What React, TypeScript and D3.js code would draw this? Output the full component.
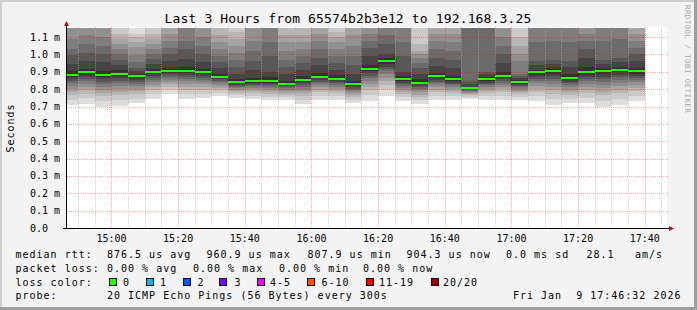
import React from "react";
import * as d3 from "d3";

// ---------------- data ----------------
const TITLE = "Last 3 Hours from 65574b2b3e12 to 192.168.3.25";
const Y_TICKS = [0, 0.1, 0.2, 0.3, 0.4, 0.5, 0.6, 0.7, 0.8, 0.9, 1.0, 1.1];
const Y_TICK_LABELS = ["0.0", "0.1 m", "0.2 m", "0.3 m", "0.4 m", "0.5 m", "0.6 m", "0.7 m", "0.8 m", "0.9 m", "1.0 m", "1.1 m"];
const Y_MAX = 1.1527; // ms
const X_TICK_LABELS = ["15:00", "15:20", "15:40", "16:00", "16:20", "16:40", "17:00", "17:20", "17:40"];
const T_START = new Date(2026, 0, 9, 14, 46, 40);
const T_END = new Date(2026, 0, 9, 17, 46, 40);
const FIRST_BIN = new Date(2026, 0, 9, 14, 45, 0);
const STEP_SECONDS = 300;

// median rtt per 5-minute bin (ms)
const MEDIAN = [
  0.884, 0.897, 0.884, 0.890, 0.878, 0.897, 0.907, 0.907, 0.897, 0.873,
  0.840, 0.846, 0.846, 0.832, 0.855, 0.873, 0.861, 0.828, 0.919, 0.961,
  0.857, 0.838, 0.874, 0.857, 0.808, 0.857, 0.878, 0.840, 0.897, 0.903,
  0.866, 0.897, 0.903, 0.913, 0.904,
];

// 20 sorted ping rtts per bin (ms)
const PINGS = [
  [0.711, 0.740, 0.766, 0.785, 0.803, 0.818, 0.834, 0.846, 0.858, 0.870, 0.905, 0.947, 0.995, 1.03, 1.09, 1.17, 1.21, 1.26, 1.33, 1.45],
  [0.717, 0.748, 0.775, 0.794, 0.812, 0.829, 0.845, 0.857, 0.870, 0.883, 0.915, 0.96, 1.01, 1.06, 1.11, 1.18, 1.22, 1.28, 1.35, 1.48],
  [0.698, 0.730, 0.758, 0.778, 0.797, 0.813, 0.830, 0.843, 0.856, 0.869, 0.905, 0.955, 1.0, 1.05, 1.10, 1.17, 1.21, 1.27, 1.34, 1.46],
  [0.705, 0.736, 0.764, 0.785, 0.803, 0.820, 0.836, 0.849, 0.862, 0.875, 0.910, 0.94, 0.97, 1.0, 1.03, 1.06, 1.09, 1.12, 1.18, 1.30],
  [0.719, 0.746, 0.770, 0.787, 0.803, 0.818, 0.832, 0.843, 0.854, 0.865, 0.89, 0.905, 0.92, 0.957, 0.995, 1.044, 1.073, 1.10, 1.121, 1.22],
  [0.746, 0.772, 0.794, 0.811, 0.826, 0.840, 0.853, 0.864, 0.874, 0.885, 0.915, 0.945, 0.975, 1.0, 1.03, 1.06, 1.09, 1.12, 1.19, 1.28],
  [0.770, 0.793, 0.814, 0.829, 0.843, 0.855, 0.867, 0.877, 0.886, 0.896, 0.925, 0.96, 1.0, 1.04, 1.08, 1.12, 1.17, 1.22, 1.30, 1.42],
  [0.746, 0.773, 0.798, 0.815, 0.831, 0.846, 0.860, 0.872, 0.883, 0.894, 0.93, 0.975, 1.03, 1.08, 1.16, 1.19, 1.24, 1.30, 1.38, 1.52],
  [0.750, 0.775, 0.797, 0.813, 0.828, 0.841, 0.854, 0.865, 0.875, 0.885, 0.915, 0.955, 1.0, 1.05, 1.10, 1.17, 1.21, 1.26, 1.34, 1.45],
  [0.759, 0.778, 0.795, 0.808, 0.819, 0.830, 0.840, 0.848, 0.856, 0.864, 0.89, 0.92, 0.955, 0.99, 1.03, 1.07, 1.11, 1.18, 1.25, 1.36],
  [0.748, 0.764, 0.777, 0.788, 0.797, 0.805, 0.813, 0.820, 0.826, 0.833, 0.86, 0.89, 0.93, 0.97, 1.01, 1.05, 1.09, 1.13, 1.20, 1.31],
  [0.746, 0.763, 0.778, 0.789, 0.799, 0.808, 0.817, 0.824, 0.831, 0.838, 0.865, 0.91, 0.96, 1.02, 1.08, 1.17, 1.21, 1.27, 1.34, 1.47],
  [0.738, 0.756, 0.773, 0.784, 0.795, 0.805, 0.815, 0.822, 0.830, 0.837, 0.87, 0.90, 0.99, 1.07, 1.16, 1.20, 1.25, 1.31, 1.40, 1.55],
  [0.740, 0.756, 0.769, 0.780, 0.789, 0.797, 0.805, 0.812, 0.818, 0.825, 0.85, 0.89, 0.93, 0.97, 1.02, 1.07, 1.11, 1.18, 1.25, 1.36],
  [0.717, 0.740, 0.761, 0.776, 0.790, 0.803, 0.815, 0.825, 0.834, 0.844, 0.875, 0.91, 0.95, 0.99, 1.03, 1.07, 1.11, 1.18, 1.26, 1.37],
  [0.740, 0.763, 0.783, 0.797, 0.810, 0.822, 0.834, 0.844, 0.853, 0.862, 0.895, 0.94, 0.98, 1.03, 1.08, 1.12, 1.17, 1.22, 1.30, 1.42],
  [0.740, 0.761, 0.779, 0.792, 0.804, 0.815, 0.826, 0.834, 0.843, 0.851, 0.88, 0.91, 0.95, 0.99, 1.03, 1.07, 1.10, 1.13, 1.19, 1.29],
  [0.721, 0.739, 0.755, 0.767, 0.778, 0.787, 0.797, 0.804, 0.812, 0.819, 0.85, 0.89, 0.94, 0.99, 1.05, 1.11, 1.17, 1.22, 1.30, 1.42],
  [0.734, 0.765, 0.793, 0.814, 0.832, 0.849, 0.865, 0.878, 0.891, 0.904, 0.94, 0.99, 1.04, 1.08, 1.12, 1.17, 1.21, 1.27, 1.35, 1.48],
  [0.763, 0.796, 0.826, 0.847, 0.867, 0.885, 0.902, 0.916, 0.930, 0.943, 0.98, 1.0, 1.06, 1.11, 1.16, 1.20, 1.25, 1.31, 1.40, 1.56],
  [0.734, 0.755, 0.773, 0.786, 0.798, 0.809, 0.820, 0.828, 0.837, 0.845, 0.875, 0.90, 0.99, 1.07, 1.16, 1.20, 1.25, 1.32, 1.41, 1.55],
  [0.715, 0.736, 0.755, 0.769, 0.781, 0.793, 0.804, 0.813, 0.821, 0.830, 0.86, 0.89, 0.92, 0.95, 0.98, 1.0, 1.02, 1.06, 1.18, 1.28],
  [0.740, 0.763, 0.783, 0.797, 0.810, 0.822, 0.834, 0.844, 0.853, 0.862, 0.895, 0.935, 0.98, 1.03, 1.08, 1.12, 1.17, 1.22, 1.30, 1.42],
  [0.740, 0.760, 0.777, 0.789, 0.801, 0.811, 0.822, 0.830, 0.838, 0.846, 0.875, 0.92, 0.97, 1.02, 1.07, 1.12, 1.17, 1.22, 1.30, 1.42],
  [0.745, 0.756, 0.765, 0.772, 0.778, 0.784, 0.790, 0.794, 0.799, 0.803, 0.815, 0.83, 0.845, 1.16, 1.20, 1.24, 1.30, 1.36, 1.45, 1.60],
  [0.740, 0.760, 0.777, 0.789, 0.801, 0.811, 0.822, 0.830, 0.838, 0.846, 0.87, 0.885, 0.90, 1.16, 1.20, 1.25, 1.30, 1.37, 1.46, 1.60],
  [0.740, 0.763, 0.784, 0.799, 0.813, 0.826, 0.838, 0.848, 0.857, 0.867, 0.90, 0.95, 1.0, 1.05, 1.10, 1.17, 1.21, 1.27, 1.34, 1.46],
  [0.740, 0.757, 0.771, 0.782, 0.792, 0.801, 0.810, 0.816, 0.823, 0.830, 0.855, 0.865, 0.875, 0.89, 0.965, 1.0, 1.05, 1.10, 1.19, 1.29],
  [0.734, 0.762, 0.786, 0.804, 0.820, 0.835, 0.850, 0.861, 0.873, 0.884, 0.913, 0.938, 0.96, 1.07, 1.16, 1.20, 1.25, 1.31, 1.40, 1.55],
  [0.711, 0.744, 0.772, 0.794, 0.813, 0.830, 0.847, 0.861, 0.874, 0.888, 0.92, 0.945, 0.97, 1.08, 1.16, 1.20, 1.25, 1.31, 1.40, 1.55],
  [0.721, 0.746, 0.767, 0.783, 0.798, 0.811, 0.824, 0.834, 0.844, 0.854, 0.89, 0.93, 0.96, 1.07, 1.16, 1.20, 1.25, 1.31, 1.40, 1.55],
  [0.721, 0.751, 0.777, 0.797, 0.814, 0.830, 0.846, 0.858, 0.871, 0.883, 0.93, 0.98, 1.03, 1.08, 1.12, 1.17, 1.21, 1.27, 1.35, 1.48],
  [0.698, 0.733, 0.764, 0.786, 0.807, 0.825, 0.844, 0.858, 0.872, 0.887, 0.92, 0.945, 0.97, 1.08, 1.16, 1.20, 1.25, 1.31, 1.40, 1.55],
  [0.711, 0.745, 0.776, 0.798, 0.818, 0.836, 0.854, 0.869, 0.883, 0.897, 0.93, 0.955, 0.98, 1.09, 1.16, 1.20, 1.25, 1.31, 1.40, 1.55],
  [0.734, 0.763, 0.788, 0.807, 0.824, 0.839, 0.854, 0.866, 0.878, 0.889, 0.925, 0.96, 1.0, 1.04, 1.08, 1.12, 1.17, 1.22, 1.30, 1.42],
];

const LEGEND_RTT_LABEL = "median rtt:";
const LEGEND_RTT = ["876.5 us avg", "960.9 us max", "807.9 us min", "904.3 us now", "0.0 ms sd", "28.1", "am/s"];
const LEGEND_LOSS_LABEL = "packet loss:";
const LEGEND_LOSS = ["0.00 % avg", "0.00 % max", "0.00 % min", "0.00 % now"];
const LOSS_COLOR_LABEL = "loss color:";
const LOSS_LABELS = ["0", "1", "2", "3", "4-5", "6-10", "11-19", "20/20"];
const LOSS_COLORS = ["#26ff00", "#00b8ff", "#0059ff", "#7e00ff", "#ff00ff", "#ff5500", "#ff0000", "#a00000"];
const PROBE_LABEL = "probe:";
const PROBE_TEXT = "20 ICMP Echo Pings (56 Bytes) every 300s";
const DATE_TEXT = "Fri Jan  9 17:46:32 2026";
const WATERMARK = "RRDTOOL / TOBI OETIKER";
const Y_LABEL = "Seconds";

// ---------------- layout ----------------
const W = 697;
const H = 310;
const PL = 67;
const PR = 667;
const PT = 28;
const PB = 228;
const MONO = "'DejaVu Sans Mono', monospace";

const RTT_X = [107, 206.5, 307.5, 406.5, 506, 586.5, 635];
const LOSS_X = [107, 193, 279, 363];
const BOX_X = [109, 146, 182.5, 219, 256.5, 307, 365.5, 430.5];
const BOX_LABEL_X = [123, 160, 197.5, 234.5, 270, 321.5, 379, 443];
const LINE_Y = [258.3, 272, 285.7, 299.3];

export default function App() {
  const x = d3.scaleTime().domain([T_START, T_END]).range([PL, PR]);
  const y = d3.scaleLinear().domain([0, Y_MAX]).range([PB, PT]);

  const bins = MEDIAN.map((m, i) => {
    const t0 = new Date(FIRST_BIN.getTime() + i * STEP_SECONDS * 1000);
    const t1 = new Date(t0.getTime() + STEP_SECONDS * 1000);
    const x0 = Math.round(x(t0 < T_START ? T_START : t0));
    const x1 = Math.round(x(t1));
    return { x0, x1, m, p: PINGS[i] };
  });

  const minorTimes = d3.timeMinute.every(5)!.range(T_START, T_END);
  const majorTimes = minorTimes.filter((t) => t.getMinutes() % 20 === 0);
  const minorOnly = minorTimes.filter((t) => t.getMinutes() % 20 !== 0);
  const fmt = d3.timeFormat("%H:%M");

  const halfPings = 10;
  const bandColor = (k: number) => {
    const c = Math.floor((190 / halfPings) * (halfPings - k)) + 50;
    return `rgb(${c},${c},${c})`;
  };

  const stepPts: [number, number][] = [];
  bins.forEach((b) => {
    stepPts.push([b.x0, y(b.m)]);
    stepPts.push([b.x1, y(b.m)]);
  });
  const stepPath = d3.line()(stepPts) || "";

  const legendStyle = {
    fontFamily: MONO,
    fontSize: 10,
    letterSpacing: 1,
    xmlSpace: "preserve",
    style: { whiteSpace: "pre" as const },
  };

  return (
    <div style={{ width: W, height: H }}>
      <style>{`body{margin:0}`}</style>
      <svg width={W} height={H} style={{ display: "block" }}>
        {/* background & shading */}
        <rect x={0} y={0} width={W} height={H} fill="#f3f3f3" />
        <rect x={0} y={0} width={W} height={2} fill="#cfcfcf" />
        <rect x={0} y={0} width={2} height={H} fill="#cfcfcf" />
        <rect x={W - 3} y={0} width={3} height={H} fill="#9e9e9e" />
        <rect x={0} y={H - 3} width={W} height={3} fill="#9e9e9e" />

        {/* title */}
        <text x={348} y={23} textAnchor="middle" fontFamily={MONO} fontSize={13} letterSpacing={0.15} fill="#000">
          {TITLE}
        </text>

        {/* watermark */}
        <text transform="translate(685,5) rotate(90)" fontFamily={MONO} fontSize={7.5} letterSpacing={0.4} fill="#aaaaaa">
          {WATERMARK}
        </text>

        {/* y label */}
        <text transform={`translate(13.5,${(PT + PB) / 2}) rotate(-90)`} textAnchor="middle" {...legendStyle} fill="#000">
          {Y_LABEL}
        </text>

        {/* canvas */}
        <rect x={PL} y={PT - 1} width={PR - PL} height={PB - PT + 1} fill="#ffffff" />

        {/* smoke */}
        <g shapeRendering="crispEdges">
          {bins.map((b, i) =>
            d3.range(1, halfPings + 1).map((k) => {
              const lo = b.p[k - 1];
              const hi = b.p[20 - k];
              const yt = Math.max(y(hi), PT);
              const yb = y(lo);
              if (yb <= yt) return null;
              return <rect key={`s${i}-${k}`} x={b.x0} y={yt} width={b.x1 - b.x0} height={yb - yt} fill={bandColor(k)} />;
            })
          )}
        </g>

        {/* grid */}
        <g shapeRendering="crispEdges" strokeDasharray="1,1" strokeWidth={1}>
          {minorOnly.map((t, i) => {
            const xx = Math.round(x(t)) + 0.5;
            return <line key={`mv${i}`} x1={xx} x2={xx} y1={PT - 1} y2={PB} stroke="rgba(170,170,170,0.6)" />;
          })}
          {majorTimes.map((t, i) => {
            const xx = Math.round(x(t)) + 0.5;
            return <line key={`Mv${i}`} x1={xx} x2={xx} y1={PT - 1} y2={PB} stroke="rgba(255,0,0,0.35)" />;
          })}
          {Y_TICKS.slice(1).map((v, i) => {
            const yy = Math.round(y(v)) + 0.5;
            return <line key={`h${i}`} x1={PL} x2={PR + 1} y1={yy} y2={yy} stroke="rgba(255,0,0,0.35)" />;
          })}
        </g>

        {/* median */}
        <path d={stepPath} fill="none" stroke="#202020" strokeWidth={1} strokeDasharray="1,1" />
        {bins.map((b, i) => (
          <rect key={`m${i}`} x={b.x0} y={y(b.m) - 1} width={b.x1 - b.x0} height={2} fill={LOSS_COLORS[0]} shapeRendering="crispEdges" />
        ))}

        {/* axes */}
        <line x1={PL - 0.5} x2={PL - 0.5} y1={PB} y2={PT - 4} stroke="#000" shapeRendering="crispEdges" />
        <line x1={PL - 4} x2={PR + 3} y1={PB + 0.5} y2={PB + 0.5} stroke="#000" shapeRendering="crispEdges" />
        <path d={`M${PL - 0.5},${PT - 7} L${PL - 3},${PT - 2} L${PL + 2},${PT - 2} Z`} fill="#a01818" />
        <path d={`M${PR + 7},${PB + 0.5} L${PR + 2},${PB - 2} L${PR + 2},${PB + 3} Z`} fill="#a01818" />

        {/* y tick labels */}
        {Y_TICKS.map((v, i) => (
          <text key={`yl${i}`} x={30} y={y(v) + 3.5} fontFamily={MONO} fontSize={10} fill="#000" xmlSpace="preserve" style={{ whiteSpace: "pre" }}>
            {Y_TICK_LABELS[i]}
          </text>
        ))}

        {/* x tick labels */}
        {majorTimes.map((t, i) => (
          <text key={`xl${i}`} x={x(t)} y={241.5} textAnchor="middle" fontFamily={MONO} fontSize={10} fill="#000">
            {X_TICK_LABELS.includes(fmt(t)) ? fmt(t) : ""}
          </text>
        ))}

        {/* legend */}
        <g fill="#000">
          <text x={15.5} y={LINE_Y[0]} {...legendStyle}>{LEGEND_RTT_LABEL}</text>
          {LEGEND_RTT.map((s, i) => (
            <text key={`r${i}`} x={RTT_X[i]} y={LINE_Y[0]} {...legendStyle}>{s}</text>
          ))}
          <text x={15.5} y={LINE_Y[1]} {...legendStyle}>{LEGEND_LOSS_LABEL}</text>
          {LEGEND_LOSS.map((s, i) => (
            <text key={`l${i}`} x={LOSS_X[i]} y={LINE_Y[1]} {...legendStyle}>{s}</text>
          ))}
          <text x={15.5} y={LINE_Y[2]} {...legendStyle}>{LOSS_COLOR_LABEL}</text>
          {LOSS_LABELS.map((s, i) => (
            <g key={`c${i}`}>
              <rect x={BOX_X[i] + 0.5} y={278.5} width={7} height={7} fill={LOSS_COLORS[i]} stroke="#000" strokeWidth={1} shapeRendering="crispEdges" />
              <text x={BOX_LABEL_X[i]} y={LINE_Y[2]} {...legendStyle}>{s}</text>
            </g>
          ))}
          <text x={15.5} y={LINE_Y[3]} {...legendStyle}>{PROBE_LABEL}</text>
          <text x={107} y={LINE_Y[3]} {...legendStyle}>{PROBE_TEXT}</text>
          <text x={513} y={LINE_Y[3]} {...legendStyle}>{DATE_TEXT}</text>
        </g>
      </svg>
    </div>
  );
}
